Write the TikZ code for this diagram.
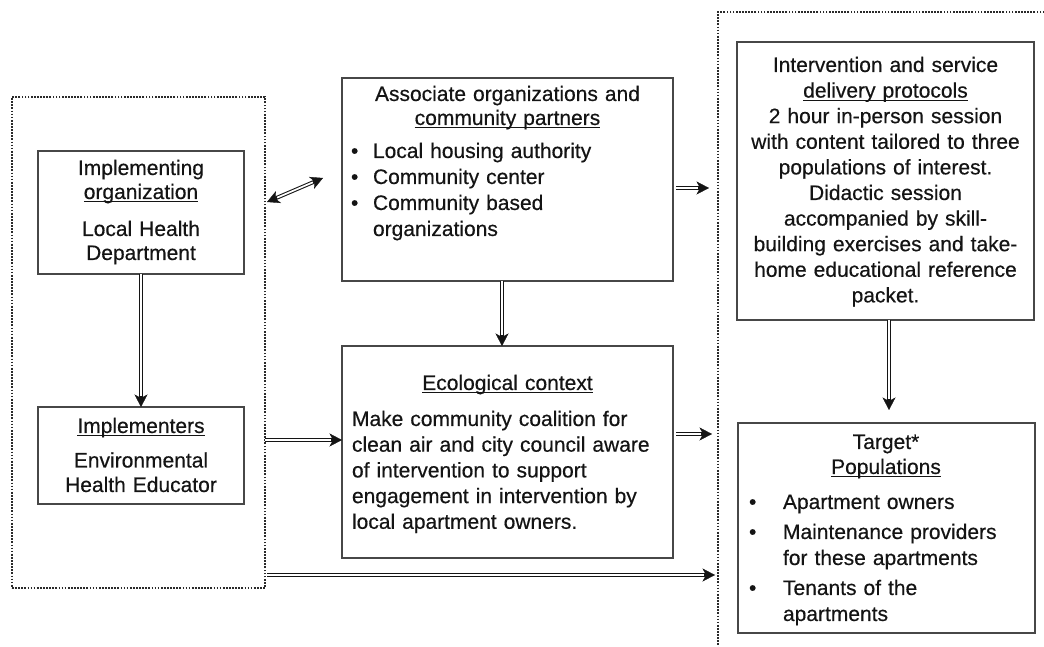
\documentclass[tikz,border=0pt]{standalone}
\usepackage{fontspec}
\setmainfont{Liberation Sans}[FakeBold=0.4]
\usetikzlibrary{arrows.meta}
\definecolor{ink}{HTML}{141414}
\definecolor{boxline}{HTML}{474747}
\definecolor{dotline}{HTML}{2A2A2A}
\newcommand{\undl}[1]{\leavevmode\setbox0\hbox{#1}\rlap{\rule[-3.5pt]{\wd0}{1.3pt}}\box0}
\newcommand{\bulC}{\makebox[22pt][l]{\textbullet}}
\newcommand{\bulF}{\makebox[34pt][l]{\textbullet}}
\begin{document}
\begin{tikzpicture}[x=1pt,y=1pt,
  every node/.style={inner sep=0pt, outer sep=0pt, text=ink},
  box/.style n args={2}{draw=boxline, line width=1.4pt, minimum width=#1, minimum height=#2},
  grp/.style n args={2}{draw=dotline, line width=2.6pt, dash pattern=on 1.7pt off 1.4pt, minimum width=#1, minimum height=#2},
  txt/.style={font=\fontsize{21}{24}\selectfont, align=center},
  arr/.style={draw=ink, line width=3.8pt, -{Stealth[length=12.5pt,width=13pt,inset=3.5pt,line width=0.4pt]},
    postaction={draw=white, line width=1.7pt, -, shorten >=11pt}},
  arrtwo/.style={draw=ink, line width=3.8pt, {Stealth[length=12.5pt,width=13pt,inset=3.5pt,line width=0.4pt]}-{Stealth[length=12.5pt,width=13pt,inset=3.5pt,line width=0.4pt]},
    postaction={draw=white, line width=1.7pt, -, shorten >=11pt, shorten <=11pt}}]
\useasboundingbox (0,0) rectangle (1044,647);
\fill[white] (0,0) rectangle (1044,647);

% group frames
\node[grp={253pt}{491pt}] (L) at (138.5,304.5) {};
\node[grp={342pt}{653pt}] (R) at (889,308.5) {};

% boxes
\node[box={206pt}{123pt}] (A) at (141,434.5) {};
\node[box={206pt}{97pt}]  (B) at (141,191.5) {};
\node[box={331pt}{203pt}] (C) at (507.5,467.5) {};
\node[box={331pt}{212pt}] (D) at (507.5,195) {};
\node[box={297pt}{278pt}] (E) at (885.5,466) {};
\node[box={297pt}{210pt}] (F) at (886.5,119) {};

% texts
\node[txt, text width=200pt, anchor=base] (At) at (141,472)
  {Implementing\\\undl{organization}\\[13pt]Local Health\\Department};
\node[txt, text width=200pt, anchor=base, font=\fontsize{21}{24.5}\selectfont] (Bt) at (141,214)
  {\undl{Implementers}\\[10pt]Environmental\\Health Educator};
\node[txt, text width=320pt, anchor=base] (Ch) at (507.5,546)
  {Associate organizations and\\\undl{community partners}};
\node[txt, text width=300pt, align=left, anchor=base west, font=\fontsize{21}{26}\selectfont] (Cb) at (351,489)
  {\bulC Local housing authority\\\bulC Community center\\\bulC Community based\\\hspace*{22pt}organizations};
\node[txt, text width=320pt, anchor=base] (Dh) at (507.5,257) {\undl{Ecological context}};
\node[txt, text width=318pt, align=left, anchor=base west, font=\fontsize{21}{25.7}\selectfont] (Db) at (352,221)
  {Make community coalition for\\clean air and city council aware\\of intervention to support\\engagement in intervention by\\local apartment owners.};
\node[txt, text width=292pt, anchor=base, font=\fontsize{21}{25.6}\selectfont] (Et) at (885.5,575)
  {Intervention and service\\\undl{delivery protocols}\\2 hour in-person session\\with content tailored to three\\populations of interest.\\Didactic session\\accompanied by skill-\\building exercises and take-\\home educational reference\\packet.};
\node[txt, text width=290pt, anchor=base, font=\fontsize{21}{25}\selectfont] (Fh) at (886,198)
  {Target*\\\undl{Populations}};
\node[txt, text width=280pt, align=left, anchor=base west, font=\fontsize{21}{26}\selectfont] (Fb) at (749,138)
  {\bulF Apartment owners\\[4pt]\bulF Maintenance providers\\\hspace*{34pt}for these apartments\\[4pt]\bulF Tenants of the\\\hspace*{34pt}apartments};

% free ends
\coordinate (lc) at (323,469);
\coordinate (cr) at (709,459);
\coordinate (dr) at (712,213);
\coordinate (lr) at (715,72);

% connectors
\draw[arr] (A.south) -- (B.north);
\draw[arrtwo] ([xshift=2pt,yshift=140.5pt]L.east) -- (lc);
\draw[arr] ([xshift=-5.5pt]C.south) -- ([xshift=-5.5pt]D.north);
\draw[arr] ([xshift=3pt,yshift=-8.5pt]C.east) -- (cr);
\draw[arr] ([yshift=-97.5pt]L.east) -- ([yshift=12pt]D.west);
\draw[arr] ([xshift=3pt,yshift=18pt]D.east) -- (dr);
\draw[arr] ([xshift=2pt,yshift=-232.5pt]L.east) -- (lr);
\draw[arr] ([xshift=3.5pt]E.south) -- ([xshift=2.5pt,yshift=13pt]F.north);
\end{tikzpicture}
\end{document}
